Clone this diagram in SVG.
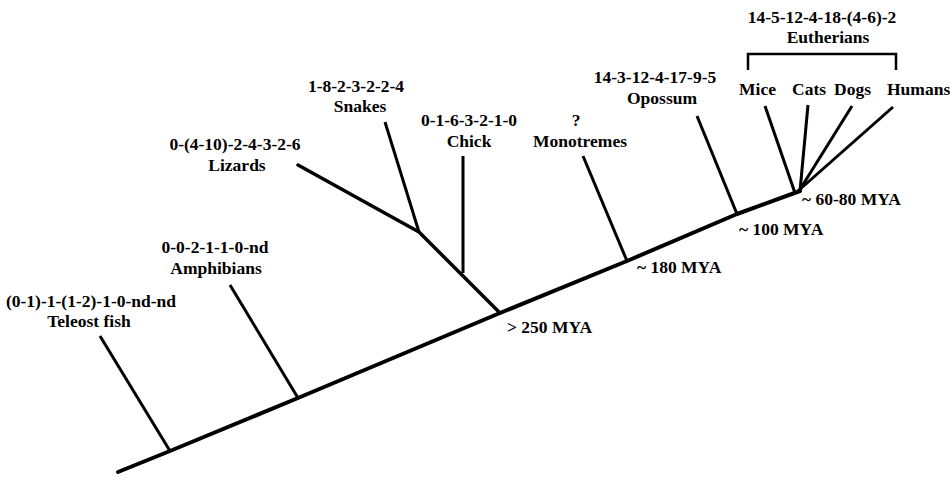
<svg xmlns="http://www.w3.org/2000/svg" width="950" height="478" viewBox="0 0 950 478">
<style>
text{font-family:'Liberation Serif','DejaVu Serif','Times New Roman',serif;font-weight:bold;font-size:17.5px;fill:#000}
.m{text-anchor:middle}
.trunk{stroke:#000;stroke-width:4;fill:none;stroke-linecap:round;stroke-linejoin:round}
.br{stroke:#000;stroke-width:3;fill:none;stroke-linecap:butt}
.brk{stroke:#000;stroke-width:2.5;fill:none}
</style>
<rect width="950" height="478" fill="#fff"/>
<g id="connectors">
<polyline class="trunk" points="118,472 170,451 298,398 500,313 627,261 737,214 800,191"/>
<line class="br" x1="100" y1="336" x2="170" y2="451"/>
<line class="br" x1="230" y1="285" x2="298" y2="398"/>
<polyline class="trunk" points="298,165 419,232 500,313" style="stroke-width:3.5"/>
<line class="br" x1="385" y1="122" x2="419" y2="232"/>
<line class="br" x1="463" y1="156" x2="463" y2="273"/>
<line class="br" x1="583" y1="156" x2="627" y2="261"/>
<line class="br" x1="697" y1="116" x2="737" y2="214"/>
<line class="br" x1="765" y1="106" x2="795" y2="193"/>
<line class="br" x1="808" y1="105" x2="800" y2="191"/>
<line class="br" x1="852" y1="106" x2="799" y2="191"/>
<line class="br" x1="893" y1="107" x2="798" y2="191"/>
</g>
<g id="bracket"><polyline class="brk" points="748,70 748,54 896,54 896,70"/></g>
<g font-family="Liberation Serif, DejaVu Serif, serif">
<g id="teleost"><text class="m" x="91" y="307">(0-1)-1-(1-2)-1-0-nd-nd</text><text class="m" x="89" y="327">Teleost fish</text></g>
<g id="amphibians"><text class="m" x="215" y="253">0-0-2-1-1-0-nd</text><text class="m" x="216" y="274">Amphibians</text></g>
<g id="lizards"><text class="m" x="235" y="150">0-(4-10)-2-4-3-2-6</text><text class="m" x="237" y="171">Lizards</text></g>
<g id="snakes"><text class="m" x="356" y="92">1-8-2-3-2-2-4</text><text class="m" x="360" y="112">Snakes</text></g>
<g id="chick"><text class="m" x="469" y="126">0-1-6-3-2-1-0</text><text class="m" x="469" y="147">Chick</text></g>
<g id="monotremes"><text class="m" x="576" y="126">?</text><text class="m" x="580" y="147">Monotremes</text></g>
<g id="opossum"><text class="m" x="655" y="83">14-3-12-4-17-9-5</text><text class="m" x="662" y="104">Opossum</text></g>
<g id="eutherians"><text class="m" x="822" y="23">14-5-12-4-18-(4-6)-2</text><text class="m" x="828" y="43">Eutherians</text></g>
<g id="mice"><text x="739" y="95">Mice</text></g>
<g id="cats"><text x="792" y="95">Cats</text></g>
<g id="dogs"><text x="834" y="95">Dogs</text></g>
<g id="humans"><text x="887" y="95">Humans</text></g>
<g id="mya250"><text x="507" y="333">&gt; 250 MYA</text></g>
<g id="mya180"><text x="637" y="273">~ 180 MYA</text></g>
<g id="mya100"><text x="739" y="235">~ 100 MYA</text></g>
<g id="mya6080"><text x="802" y="205">~ 60-80 MYA</text></g>
</g>
</svg>
